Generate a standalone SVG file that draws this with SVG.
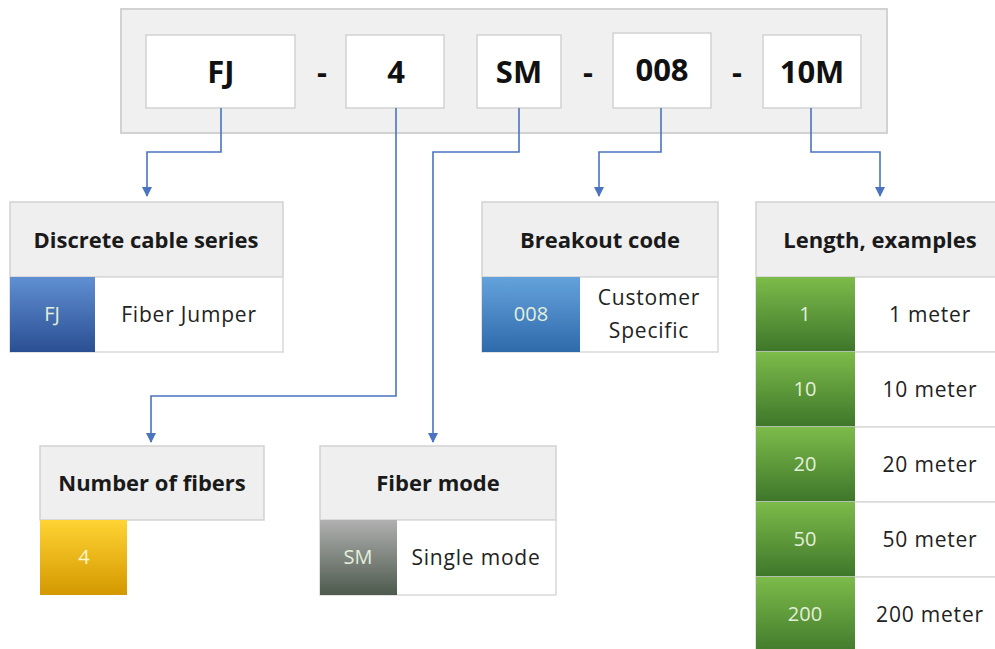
<svg xmlns="http://www.w3.org/2000/svg" width="995" height="649" viewBox="0 0 995 649">
<defs>
<linearGradient id="gBlue" x1="0" y1="0" x2="0" y2="1"><stop offset="0" stop-color="#5f8fd2"/><stop offset="1" stop-color="#2b4f93"/></linearGradient>
<linearGradient id="gBlue2" x1="0" y1="0" x2="0" y2="1"><stop offset="0" stop-color="#64a2dc"/><stop offset="1" stop-color="#2f6aab"/></linearGradient>
<linearGradient id="gGreen" x1="0" y1="0" x2="0" y2="1"><stop offset="0" stop-color="#7dbb4a"/><stop offset="1" stop-color="#3e762a"/></linearGradient>
<linearGradient id="gYellow" x1="0" y1="0" x2="0" y2="1"><stop offset="0" stop-color="#ffd433"/><stop offset="1" stop-color="#d49800"/></linearGradient>
<linearGradient id="gGray" x1="0" y1="0" x2="0" y2="1"><stop offset="0" stop-color="#b0b0b0"/><stop offset="1" stop-color="#4e5a4e"/></linearGradient>
<marker id="arr" viewBox="0 0 10 10" refX="9" refY="5" markerWidth="10" markerHeight="10" markerUnits="userSpaceOnUse" orient="auto"><path d="M0,0 L10,5 L0,10 z" fill="#4a74c0"/></marker>
</defs>
<style>
.panel{fill:#f0f0f0;stroke:#d2d2d2;stroke-width:2}
.box{fill:#ffffff;stroke:#d2d2d2;stroke-width:1.5}
.hdr{fill:#efefef;stroke:#d2d2d2;stroke-width:1.5}
.cell{fill:#ffffff;stroke:#d9d9d9;stroke-width:1.5}
.big{font-family:"Open Sans","Liberation Sans",sans-serif;font-weight:bold;font-size:31px;fill:#111;text-anchor:middle}
.h{font-family:"Open Sans","Liberation Sans",sans-serif;font-weight:bold;font-size:22px;fill:#1a1a1a;text-anchor:middle}
.t{font-family:"Open Sans","Liberation Sans",sans-serif;font-size:21px;letter-spacing:0.8px;fill:#222;text-anchor:middle}
.w{font-family:"Open Sans","Liberation Sans",sans-serif;font-size:20px;fill:#e4efdc;text-anchor:middle}
.con{fill:none;stroke:#4a74c0;stroke-width:1.6}
</style>
<g id="code">
<rect class="panel" x="121" y="9" width="766" height="124"/>
<rect class="box" x="146" y="35" width="149" height="73"/><text class="big" x="221" y="83">FJ</text>
<text class="big" x="322" y="83">-</text>
<rect class="box" x="346" y="35" width="98" height="73"/><text class="big" x="396" y="83">4</text>
<rect class="box" x="477" y="35" width="84" height="73"/><text class="big" x="519" y="83">SM</text>
<text class="big" x="588" y="83">-</text>
<rect class="box" x="613" y="33" width="98" height="75"/><text class="big" x="662" y="81">008</text>
<text class="big" x="737" y="83">-</text>
<rect class="box" x="763" y="35" width="98" height="73"/><text class="big" x="812" y="83">10M</text>
</g>
<g id="connectors">
<path class="con" d="M221,108 V152 H147 V196" marker-end="url(#arr)"/>
<path class="con" d="M396,108 V396 H151 V442" marker-end="url(#arr)"/>
<path class="con" d="M519,108 V152 H433 V442" marker-end="url(#arr)"/>
<path class="con" d="M661,108 V152 H599 V196" marker-end="url(#arr)"/>
<path class="con" d="M811,108 V152 H880 V196" marker-end="url(#arr)"/>
</g>
<g id="series">
<rect class="hdr" x="10" y="202" width="273" height="75"/><text class="h" x="146" y="248">Discrete cable series</text>
<rect class="cell" x="10" y="277" width="273" height="75"/>
<rect x="10" y="277" width="85" height="75" fill="url(#gBlue)"/><text class="w" x="52" y="321">FJ</text>
<text class="t" x="189" y="322">Fiber Jumper</text>
</g>
<g id="breakout">
<rect class="hdr" x="482" y="202" width="236" height="75"/><text class="h" x="600" y="248">Breakout code</text>
<rect class="cell" x="482" y="277" width="236" height="75"/>
<rect x="482" y="277" width="98" height="75" fill="url(#gBlue2)"/><text class="w" x="531" y="321">008</text>
<text class="t" x="649" y="305">Customer</text>
<text class="t" x="649" y="338">Specific</text>
</g>
<g id="length">
<rect class="hdr" x="756" y="202" width="245" height="75"/><text class="h" x="880" y="248">Length, examples</text>
<rect class="cell" x="756" y="277" width="245" height="75"/>
<rect x="756" y="277" width="99" height="75" fill="url(#gGreen)"/><text class="w" x="805" y="321">1</text><text class="t" x="930" y="322">1 meter</text>
<rect class="cell" x="756" y="352" width="245" height="75"/>
<rect x="756" y="352" width="99" height="75" fill="url(#gGreen)"/><text class="w" x="805" y="396">10</text><text class="t" x="930" y="397">10 meter</text>
<rect class="cell" x="756" y="427" width="245" height="75"/>
<rect x="756" y="427" width="99" height="75" fill="url(#gGreen)"/><text class="w" x="805" y="471">20</text><text class="t" x="930" y="472">20 meter</text>
<rect class="cell" x="756" y="502" width="245" height="75"/>
<rect x="756" y="502" width="99" height="75" fill="url(#gGreen)"/><text class="w" x="805" y="546">50</text><text class="t" x="930" y="547">50 meter</text>
<rect class="cell" x="756" y="577" width="245" height="80"/>
<rect x="756" y="577" width="99" height="80" fill="url(#gGreen)"/><text class="w" x="805" y="621">200</text><text class="t" x="930" y="622">200 meter</text>
</g>
<g id="fibers">
<rect class="hdr" x="40" y="446" width="224" height="74"/><text class="h" x="152" y="491">Number of fibers</text>
<rect x="40" y="520" width="87" height="75" fill="url(#gYellow)"/><text class="w" x="84" y="564" style="fill:#fff4d0">4</text>
</g>
<g id="mode">
<rect class="hdr" x="320" y="446" width="236" height="74"/><text class="h" x="438" y="491">Fiber mode</text>
<rect class="cell" x="320" y="520" width="236" height="75"/>
<rect x="320" y="520" width="77" height="75" fill="url(#gGray)"/><text class="w" x="358" y="564">SM</text>
<text class="t" x="476" y="565">Single mode</text>
</g>
</svg>
